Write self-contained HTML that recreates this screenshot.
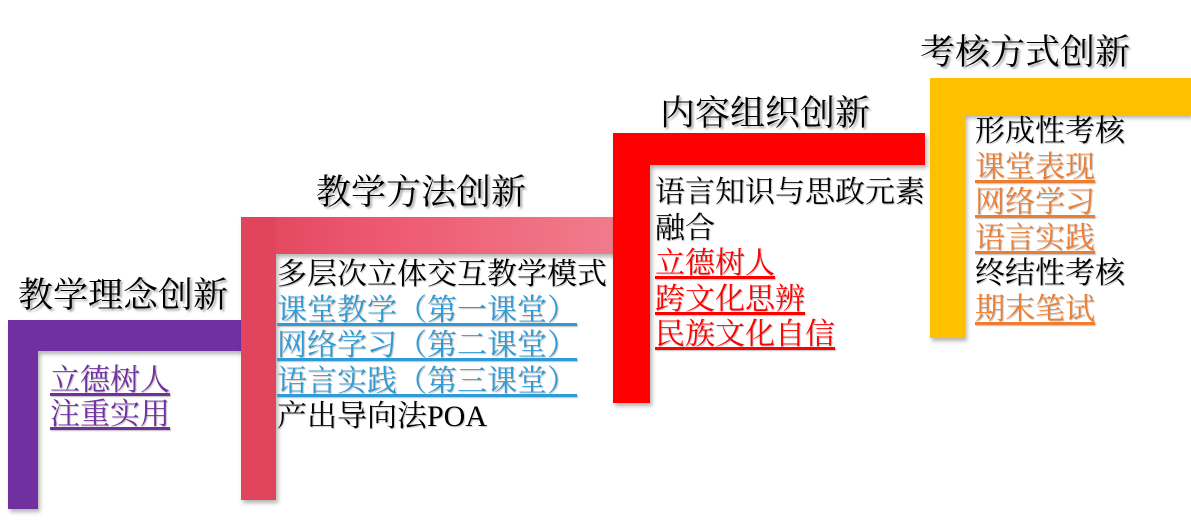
<!DOCTYPE html>
<html><head><meta charset="utf-8"><style>
body{margin:0;width:1191px;height:524px;background:#fff;position:relative;overflow:hidden;font-family:"Liberation Serif","Noto Serif CJK SC",serif;}
.g{position:absolute;left:0;top:0;width:1191px;height:524px;filter:drop-shadow(2px 3px 2px rgba(0,0,0,.3));}
.b{position:absolute;}
.t{position:absolute;font-size:35px;line-height:40px;color:#000;text-shadow:2px 2px 2px rgba(0,0,0,.35);white-space:nowrap;}
.x{position:absolute;font-size:30px;line-height:35.5px;white-space:nowrap;text-shadow:1px 1px 1px rgba(0,0,0,.25);}
.x u{text-underline-offset:3px;}
.p{color:#7030A0}.bl{color:#2E9BD6}.r{color:#ff0000}.o{color:#ED7D31}
</style></head><body>
<div class="g">
<div class="b" style="left:8px;top:320px;width:234px;height:31px;background:#7030A0"></div>
<div class="b" style="left:8px;top:320px;width:30px;height:189px;background:#7030A0"></div>
</div>
<div class="g">
<div class="b" style="left:241px;top:217px;width:374px;height:37px;background:linear-gradient(90deg,#e0455d,#ee5a72 40%,#f07c8b)"></div>
<div class="b" style="left:241px;top:217px;width:35px;height:283px;background:#e0455d"></div>
</div>
<div class="g">
<div class="b" style="left:613px;top:133px;width:312px;height:32px;background:#ff0000"></div>
<div class="b" style="left:613px;top:133px;width:37px;height:270px;background:#ff0000"></div>
</div>
<div class="g">
<div class="b" style="left:930px;top:78px;width:261px;height:37px;background:#FFC000"></div>
<div class="b" style="left:930px;top:78px;width:35px;height:260px;background:#FFC000"></div>
</div>

<div class="t" style="left:18px;top:276px">教学理念创新</div>
<div class="t" style="left:316px;top:173px">教学方法创新</div>
<div class="t" style="left:660px;top:94px">内容组织创新</div>
<div class="t" style="left:920px;top:33px">考核方式创新</div>

<div class="x p" style="left:50px;top:364px;line-height:34px"><u>立德树人</u><br><u>注重实用</u></div>
<div class="x" style="left:277px;top:257px">多层次立体交互教学模式<br><u class="bl">课堂教学（第一课堂）</u><br><u class="bl">网络学习（第二课堂）</u><br><u class="bl">语言实践（第三课堂）</u><br>产出导向法POA</div>
<div class="x" style="left:655px;top:175px">语言知识与思政元素<br>融合<br><u class="r">立德树人</u><br><u class="r">跨文化思辨</u><br><u class="r">民族文化自信</u></div>
<div class="x" style="left:975px;top:114px">形成性考核<br><u class="o">课堂表现</u><br><u class="o">网络学习</u><br><u class="o">语言实践</u><br>终结性考核<br><u class="o">期末笔试</u></div>
</body></html>
